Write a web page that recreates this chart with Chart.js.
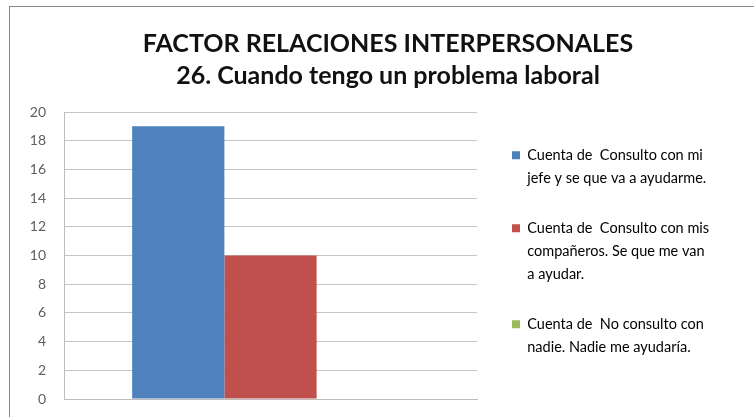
<!DOCTYPE html>
<html>
<head>
<meta charset="utf-8">
<script src="https://cdn.jsdelivr.net/npm/chart.js@4.4.0/dist/chart.umd.min.js"></script>
<style>
    html, body { margin: 0; padding: 0; background: #fff; overflow: hidden; }
    #frame {
        position: absolute; left: 9px; top: 6px; width: 800px; height: 450px;
        border-left: 1px solid #8a8a8a; border-top: 1px solid #8a8a8a;
    }
    #chart_id { position: absolute; left: 10px; top: 7px; }
</style>
</head>
<body>
<div id="frame"></div>
<canvas id="chart_id" width="760" height="410"></canvas>
<script>
// one empty category, three answer series
const categories = [''];
const seriesNames = [
    ['Cuenta de  Consulto con mi', 'jefe y se que va a ayudarme.'],
    ['Cuenta de  Consulto con mis', 'compañeros. Se que me van', 'a ayudar.'],
    ['Cuenta de  No consulto con', 'nadie. Nadie me ayudaría.']
];
const seriesValues = [19, 10, 0];
const seriesColors = ['#4f81bd', '#c0504d', '#9bbb59'];
const yTicks = [0, 2, 4, 6, 8, 10, 12, 14, 16, 18, 20];
const titleLines = ['FACTOR RELACIONES INTERPERSONALES', '26. Cuando tengo un problema laboral'];

const LEGEND_WIDTH = 277;
const BOTTOM_GAP = 18;

// legend keeps a fixed width so the entries start next to the plot
const fixedLegend = {
    id: 'fixedLegend',
    beforeLayout(chart) {
        const lg = chart.legend;
        if (lg && !lg._fixed) {
            const fit = lg.fit;
            lg.fit = function () {
                fit.call(this);
                this.width = LEGEND_WIDTH;
            };
            lg._fixed = true;
        }
    }
};

const datasets = seriesNames.map((name, i) => ({
    label: name,
    data: [seriesValues[i]],
    backgroundColor: seriesColors[i],
    borderWidth: 0,
    categoryPercentage: 0.67,
    barPercentage: 1
}));

new Chart(document.getElementById('chart_id'), {
    type: 'bar',
    data: { labels: categories, datasets: datasets },
    plugins: [fixedLegend],
    options: {
        responsive: false,
        animation: false,
        layout: { padding: { left: 4, right: 8, top: 0, bottom: 0 } },
        plugins: {
            title: {
                display: true,
                text: titleLines,
                color: '#111',
                font: { family: 'Lato', size: 25, weight: 'bold', lineHeight: 32 / 25 },
                padding: { top: 21, bottom: 20 }
            },
            legend: {
                position: 'right',
                fullSize: false,
                align: 'center',
                labels: {
                    generateLabels: (chart) => chart.data.datasets.map((ds, i) => ({
                        text: ds.label,
                        fillStyle: ds.backgroundColor,
                        strokeStyle: ds.backgroundColor,
                        lineWidth: 0,
                        hidden: false,
                        datasetIndex: i
                    })),
                    boxWidth: 8,
                    boxHeight: 8,
                    padding: 27,
                    color: '#404040',
                    font: { family: 'Lato', size: 14.5, lineHeight: 23 / 14.5 }
                }
            },
            tooltip: { enabled: false }
        },
        scales: {
            x: {
                grid: { display: false, drawTicks: false },
                ticks: { display: false },
                border: { display: true, color: '#bdbdbd' },
                afterFit: (s) => { s.height = BOTTOM_GAP; }
            },
            y: {
                min: 0,
                max: 20,
                afterBuildTicks: (s) => { s.ticks = yTicks.map(v => ({ value: v })); },
                afterFit: (s) => { s.width = 50; },
                grid: { color: '#c4c4c4', drawTicks: true, tickLength: 15, tickColor: 'rgba(0,0,0,0)' },
                border: { display: true, color: '#bdbdbd' },
                ticks: {
                    padding: 3,
                    color: '#606060',
                    font: { family: 'Lato', size: 14 }
                }
            },
            y2: {
                position: 'right',
                afterFit: (s) => { s.width = 8; },
                grid: { display: false, drawTicks: false },
                border: { display: false },
                ticks: { display: false }
            }
        }
    }
});
</script>
</body>
</html>
